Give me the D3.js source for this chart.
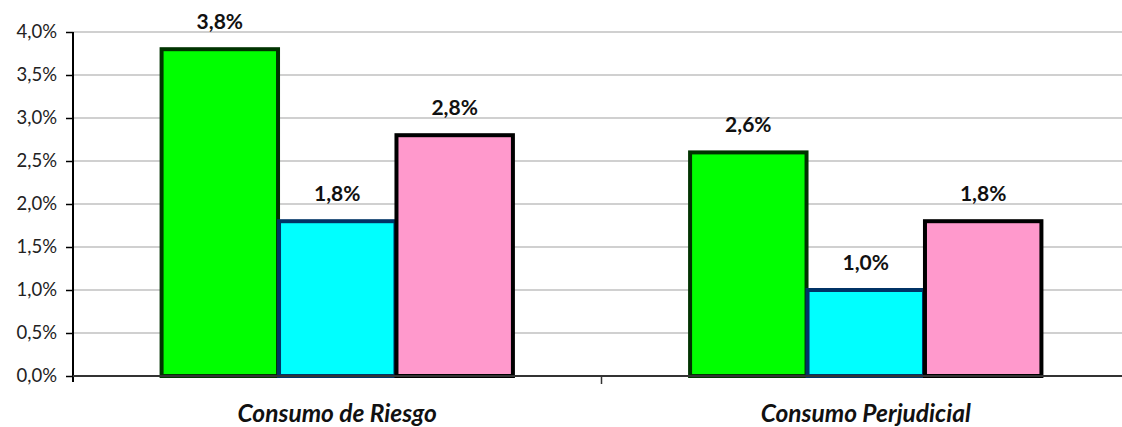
<!DOCTYPE html>
<html><head><meta charset="utf-8">
<script src="https://cdn.jsdelivr.net/npm/d3@7"></script>
<style>body{margin:0;background:#fff}svg{display:block}text{font-family:Lato,"Open Sans",sans-serif}</style>
</head><body><svg id="c" width="1122" height="427"></svg>
<script>
const categories = ["Consumo de Riesgo", "Consumo Perjudicial"];
const seriesNames = ["A", "B", "C"];
const values = [[3.8, 1.8, 2.8], [2.6, 1.0, 1.8]];
const yTicks = [0, 0.5, 1.0, 1.5, 2.0, 2.5, 3.0, 3.5, 4.0];
const fills = ["#00ff00", "#00ffff", "#ff99cc"];
const strokes = ["#003300", "#003366", "#000000"];

const svg = d3.select("#c");
const L = 73, R = 1130, T = 32, B = 376;
const y = d3.scaleLinear().domain([0, 4]).range([B, T]);
const x0 = d3.scaleBand().domain(categories).range([L, R]).paddingInner(0).paddingOuter(0);
const x1 = d3.scaleBand().domain(seriesNames).range([0, x0.bandwidth()]).paddingInner(0).paddingOuter(0.75);
const fmt = v => d3.format(".1f")(v).replace(".", ",") + "%";

// gridlines
svg.append("g").selectAll("line").data(yTicks.filter(d => d > 0)).join("line")
  .attr("x1", L).attr("x2", 1122).attr("y1", d => y(d)).attr("y2", d => y(d))
  .attr("stroke", "#c0c0c0").attr("stroke-width", 1.5);

// bars
const g = svg.append("g").selectAll("g").data(categories).join("g")
  .attr("transform", d => `translate(${x0(d)},0)`);
g.selectAll("rect").data((d, i) => values[i].map((v, j) => ({v, j})))
  .join("rect")
  .attr("x", d => x1(seriesNames[d.j]) + 0.5)
  .attr("width", x1.bandwidth() - 1)
  .attr("y", d => y(d.v))
  .attr("height", d => B - y(d.v))
  .attr("fill", d => fills[d.j]).attr("stroke", d => strokes[d.j]).attr("stroke-width", 4);
g.selectAll("text").data((d, i) => values[i].map((v, j) => ({v, j})))
  .join("text")
  .attr("x", d => x1(seriesNames[d.j]) + x1.bandwidth() / 2)
  .attr("y", d => y(d.v) - 20)
  .attr("text-anchor", "middle").attr("font-weight", "bold").attr("font-size", 21)
  .attr("fill", "#111").text(d => fmt(d.v));

// y axis
const ya = svg.append("g").attr("transform", `translate(${L},0)`)
  .call(d3.axisLeft(y).tickValues(yTicks).tickSize(7).tickPadding(9).tickFormat(fmt));
ya.select(".domain").attr("stroke", "#000").attr("stroke-width", 2).attr("d", `M0,${T}V${B+6}`);
ya.selectAll(".tick line").attr("stroke", "#000").attr("stroke-width", 1.5);
ya.selectAll(".tick text").attr("font-size", 18.5).attr("fill", "#222").attr("font-family", "Lato, sans-serif");

// x axis
const xa = svg.append("g").attr("transform", `translate(0,${B})`);
xa.append("line").attr("x1", L).attr("x2", 1122).attr("stroke", "#333").attr("stroke-width", 2);
xa.selectAll("line.t").data(categories.slice(0, 1)).join("line").attr("class", "t")
  .attr("x1", d => x0(d) + x0.bandwidth()).attr("x2", d => x0(d) + x0.bandwidth())
  .attr("y1", 0).attr("y2", 8).attr("stroke", "#333").attr("stroke-width", 1.5);
xa.selectAll("text").data(categories).join("text")
  .attr("x", d => x0(d) + x0.bandwidth() / 2).attr("y", 46)
  .attr("text-anchor", "middle").attr("font-weight", "bold").attr("font-style", "italic")
  .attr("font-size", 24.5).attr("fill", "#111").text(d => d);
</script></body></html>
